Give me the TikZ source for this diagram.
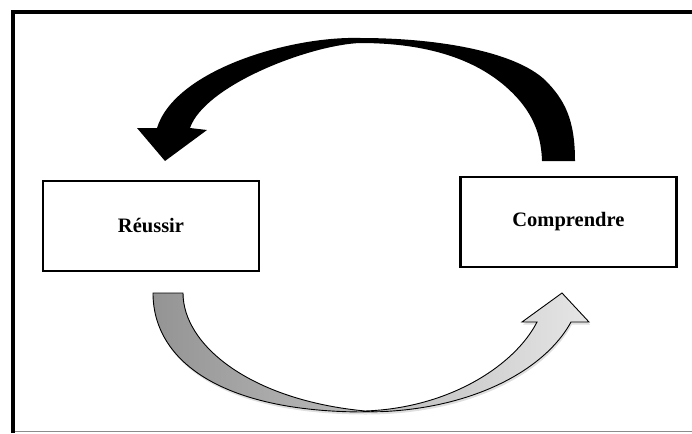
\documentclass[tikz,border=0pt]{standalone}
\usepackage{fontspec}
\setmainfont{Liberation Serif}
\usetikzlibrary{positioning,shadows}

\begin{document}
\begin{tikzpicture}[
    x=1pt, y=-1pt,
    every node/.style={font=\fontsize{20.5}{24}\selectfont\bfseries},
    box/.style={rectangle, draw=black, line width=2.4pt, minimum width=216pt, minimum height=90pt, text centered},
    bigarrow/.style={fill=black},
    softarrow/.style={draw=black, line width=0.9pt, left color=black!42, right color=black!10, drop shadow={shadow xshift=1pt, shadow yshift=-2.5pt, opacity=0.25}}
]
    \useasboundingbox (0,0) rectangle (692,433);

    % Frame
    \draw[line width=4pt] (13,433) -- (13,12) -- (692,12);
    \draw[black!45, line width=1.5pt] (15,431.5) -- (692,431.5);

    % Nodes
    \node[box] (reussir) at (151,226) {Réussir};
    \node[box, right=199pt of reussir, yshift=4pt] (comprendre) {Comprendre};

    % Arrows
    \fill[bigarrow] (542,161) -- (575,161)
        .. controls (575,120) and (565,100) .. (545,80)
        .. controls (515,52) and (440,38) .. (360,38)
        .. controls (290,36) and (175,70) .. (157,128)
        -- (137,128) -- (165,161) -- (207,130) -- (190,128)
        .. controls (205,85) and (310,45) .. (360,43)
        .. controls (420,43) and (470,56) .. (505,86)
        .. controls (528,106) and (541,128) .. (542,161) -- cycle;
    \draw[softarrow] (153,293) -- (183,293)
        .. controls (183,345) and (250,400) .. (365,411)
        .. controls (450,408) and (515,365) .. (537,322)
        -- (522,322) -- (562,293) -- (589,322) -- (571,322)
        .. controls (545,370) and (470,412) .. (365,412)
        .. controls (220,412) and (153,360) .. (153,293) -- cycle;

\end{tikzpicture}
\end{document}
